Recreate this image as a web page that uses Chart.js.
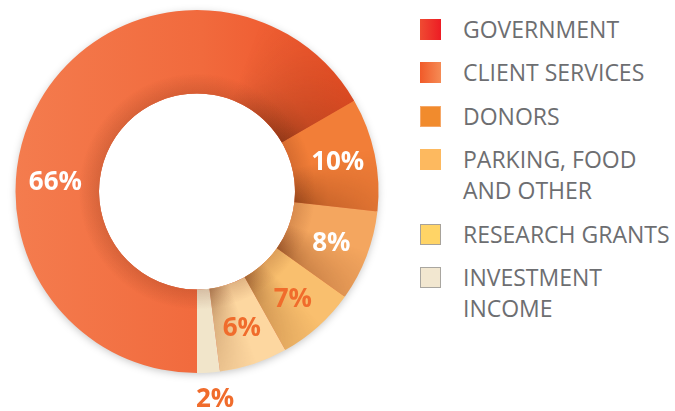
<!DOCTYPE html>
<html lang="en">
<head>
<meta charset="UTF-8">
<title>Revenue sources</title>
<script src="https://cdn.jsdelivr.net/npm/chart.js"></script>
<style>
    body { margin: 0; background: #fff; }
    #wrap { position: relative; width: 675px; height: 411px; overflow: hidden; }
    #chart_box { position: absolute; left: 0; top: 0; width: 394px; height: 411px; }
    .row { position: absolute; left: 420px; font-family: "Open Sans", sans-serif; font-size: 23px; line-height: 31px; color: #6d6e71; white-space: nowrap; }
    .box { position: absolute; left: 0; width: 21px; height: 21px; box-sizing: border-box; }
    .txt { position: absolute; left: 43px; top: 0; }
</style>
</head>
<body>
<div id="wrap">
    <div id="chart_box"><canvas id="grafico"></canvas></div>
    <div id="legenda"></div>
</div>
<script>
    // dados
    var categorias = ['GOVERNMENT', 'CLIENT SERVICES', 'DONORS', 'PARKING, FOOD AND OTHER', 'RESEARCH GRANTS', 'INVESTMENT INCOME'];
    var linhas_legenda = [['GOVERNMENT'], ['CLIENT SERVICES'], ['DONORS'], ['PARKING, FOOD', 'AND OTHER'], ['RESEARCH GRANTS'], ['INVESTMENT', 'INCOME']];
    var percentuais = [66, 10, 8, 7, 6, 2];

    var cores_fatias = ['#f26a3e', '#f27e38', '#f4a65f', '#f9bf6e', '#fdd7a0', '#f1e5ca'];
    var cores_rotulos = ['#ffffff', '#ffffff', '#ffffff', '#f06c2c', '#f06c2c', '#f06c2c'];
    var estilo_caixas = [
        'background: linear-gradient(to right, #ef4b32, #ed1c24);',
        'background: linear-gradient(to right, #f15a29, #f58b55);',
        'background: #f18b2d; border: 1px solid #f6a868;',
        'background: #fdb95f;',
        'background: #ffd466; border: 1.5px solid #a7a29a;',
        'background: #f2e7d0; border: 1.5px solid #a9a6a0;'
    ];

    // legenda em html
    var legenda = document.getElementById('legenda');
    var y = 29;
    for (var i = 0; i < linhas_legenda.length; i++) {
        var row = document.createElement('div');
        row.className = 'row';
        row.style.top = (y - 15.5) + 'px';
        row.innerHTML = '<div class="box" style="top:5px;' + estilo_caixas[i] + '"></div>' +
            '<div class="txt">' + linhas_legenda[i].join('<br>') + '</div>';
        legenda.appendChild(row);
        y += (linhas_legenda[i].length - 1) * 31 + 43.5;
    }

    function caminhoAnel(ctx, x, y, r1, r2, a1, a2) {
        ctx.beginPath();
        ctx.arc(x, y, r2, a1, a2);
        ctx.arc(x, y, r1, a2, a1, true);
        ctx.closePath();
    }

    // sombra externa e sombreado das fatias
    var sombra = {
        id: 'sombra',
        beforeDatasetsDraw: function (chart) {
            var arc = chart.getDatasetMeta(0).data[0];
            if (!arc) return;
            var ctx = chart.ctx;
            ctx.save();
            ctx.beginPath();
            ctx.rect(0, 0, chart.width, chart.height);
            ctx.arc(arc.x, arc.y, arc.innerRadius, 0, Math.PI * 2);
            ctx.clip('evenodd');
            ctx.shadowColor = 'rgba(0,0,0,0.25)';
            ctx.shadowBlur = 8;
            ctx.shadowOffsetY = 2;
            ctx.fillStyle = '#f26a3e';
            ctx.beginPath();
            ctx.arc(arc.x, arc.y, arc.outerRadius - 1, 0, Math.PI * 2);
            ctx.fill();
            ctx.restore();
        },
        afterDatasetsDraw: function (chart) {
            var arcs = chart.getDatasetMeta(0).data;
            var ctx = chart.ctx;
            var off = document.createElement('canvas');
            off.width = chart.width;
            off.height = chart.height;
            var o = off.getContext('2d');
            var escuros = [0.6, 0.55, 0.55, 0.5, 0.45, 0];
            for (var i = 0; i < arcs.length; i++) {
                var a = arcs[i];
                if (!escuros[i]) continue;
                var frac = (a.endAngle - a.startAngle) / (Math.PI * 2);
                var g = o.createConicGradient(a.startAngle, a.x, a.y);
                var span = i == 0 ? 0.11 : frac * 0.55;
                g.addColorStop(0, 'rgba(100,40,10,0)');
                g.addColorStop(Math.max(0, frac - span), 'rgba(100,40,10,0)');
                g.addColorStop(frac, 'rgba(100,40,10,' + escuros[i] + ')');
                g.addColorStop(Math.min(1, frac + 0.001), 'rgba(100,40,10,0)');
                o.fillStyle = g;
                caminhoAnel(o, a.x, a.y, a.innerRadius, a.outerRadius, a.startAngle, a.endAngle);
                o.fill();
            }
            var a0 = arcs[0];
            o.globalCompositeOperation = 'destination-in';
            var rg = o.createRadialGradient(a0.x, a0.y, a0.innerRadius, a0.x, a0.y, a0.outerRadius);
            rg.addColorStop(0, 'rgba(0,0,0,1)');
            rg.addColorStop(0.4, 'rgba(0,0,0,0.5)');
            rg.addColorStop(1, 'rgba(0,0,0,0.25)');
            o.fillStyle = rg;
            o.fillRect(0, 0, off.width, off.height);
            // leve sombra interna junto ao furo
            o.globalCompositeOperation = 'source-over';
            var rg2 = o.createRadialGradient(a0.x, a0.y, a0.innerRadius, a0.x, a0.y, a0.innerRadius + 20);
            rg2.addColorStop(0, 'rgba(110,40,15,0.2)');
            rg2.addColorStop(1, 'rgba(110,40,15,0)');
            o.fillStyle = rg2;
            caminhoAnel(o, a0.x, a0.y, a0.innerRadius, a0.outerRadius, 0, Math.PI * 2);
            o.fill();
            ctx.drawImage(off, 0, 0, chart.width, chart.height);
        }
    };

    // rotulos de percentual
    var ajuste_rotulos = { 0: { angulo: 274, raio: 142 }, 5: { angulo: 175, raio: 208 } };
    var rotulos = {
        id: 'rotulos',
        afterDatasetsDraw: function (chart) {
            var arcs = chart.getDatasetMeta(0).data;
            var ctx = chart.ctx;
            ctx.save();
            ctx.font = 'bold 26px "Open Sans"';
            ctx.textAlign = 'center';
            ctx.textBaseline = 'middle';
            for (var i = 0; i < arcs.length; i++) {
                var a = arcs[i];
                var ang = (a.startAngle + a.endAngle) / 2;
                var r = (a.innerRadius + a.outerRadius) / 2 + 4;
                if (ajuste_rotulos[i]) {
                    ang = (ajuste_rotulos[i].angulo - 90) * Math.PI / 180;
                    r = ajuste_rotulos[i].raio;
                }
                ctx.fillStyle = cores_rotulos[i];
                ctx.fillText(percentuais[i] + '%', a.x + r * Math.cos(ang), a.y + r * Math.sin(ang) + 1);
            }
            ctx.restore();
        }
    };

    var ctx = document.getElementById('grafico').getContext('2d');
    var grafico = new Chart(ctx, {
        type: 'doughnut',
        data: {
            labels: categorias,
            datasets: [{
                data: percentuais,
                backgroundColor: function (context) {
                    var area = context.chart.chartArea;
                    if (context.dataIndex == 0 && area) {
                        var g = context.chart.ctx.createLinearGradient(area.left + 15, 0, area.right - 40, 0);
                        g.addColorStop(0, '#f47c4e');
                        g.addColorStop(0.55, '#f16a3d');
                        g.addColorStop(1, '#ee4f26');
                        return g;
                    }
                    return cores_fatias[context.dataIndex];
                },
                borderWidth: 0
            }]
        },
        options: {
            responsive: true,
            maintainAspectRatio: false,
            animation: false,
            rotation: 180,
            cutout: '54%',
            layout: { padding: { top: 10, bottom: 38, left: 0, right: 0 } },
            plugins: {
                legend: { display: false },
                tooltip: { enabled: false }
            }
        },
        plugins: [sombra, rotulos]
    });
</script>
</body>
</html>
